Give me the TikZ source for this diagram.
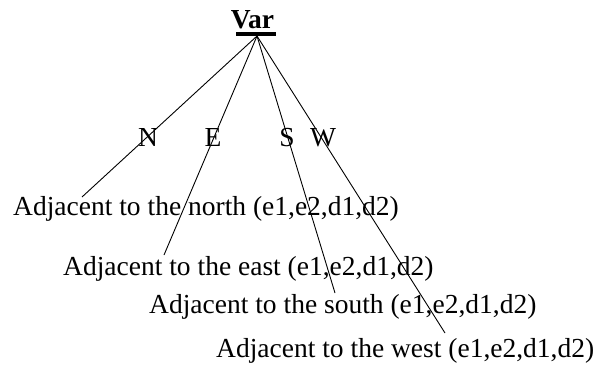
\documentclass[tikz,border=0pt]{standalone}
\usepackage{fontspec}
\setmainfont{Liberation Serif}
\begin{document}
\begin{tikzpicture}[x=1pt,y=-1pt,
  txt/.style={inner sep=0pt,anchor=base west,font=\fontsize{27.5}{30}\selectfont},
  lbl/.style={inner sep=0pt,anchor=base,font=\fontsize{27.5}{30}\selectfont},
  conn/.style={line width=0.9pt}]
\useasboundingbox (0,0) rectangle (594,367);
\node[inner sep=0pt,anchor=base,font=\fontsize{27.5}{30}\selectfont\bfseries] (var) at (252.5,28) {Var};
\coordinate (barL) at (236,34);
\coordinate (barR) at (276,34);
\draw[line width=4pt] (barL) -- (barR);
\coordinate (root) at (257,36);
\node[txt] (north) at (13,215) {Adjacent to the north (e1,e2,d1,d2)};
\node[txt] (east) at (63,275) {Adjacent to the east (e1,e2,d1,d2)};
\node[txt] (south) at (149,313) {Adjacent to the south (e1,e2,d1,d2)};
\node[txt] (west) at (216,357) {Adjacent to the west (e1,e2,d1,d2)};
\coordinate (nEnd) at (82,197);
\coordinate (eEnd) at (164,255);
\coordinate (sEnd) at (335,293);
\coordinate (wEnd) at (445,333);
\draw[conn] (root) -- (nEnd);
\draw[conn] (root) -- (eEnd);
\draw[conn] (root) -- (sEnd);
\draw[conn] (root) -- (wEnd);
\node[lbl] (lN) at (148,146) {N};
\node[lbl] (lE) at (213,146) {E};
\node[lbl] (lS) at (287,146) {S};
\node[lbl] (lW) at (323,146) {W};
\end{tikzpicture}
\end{document}
